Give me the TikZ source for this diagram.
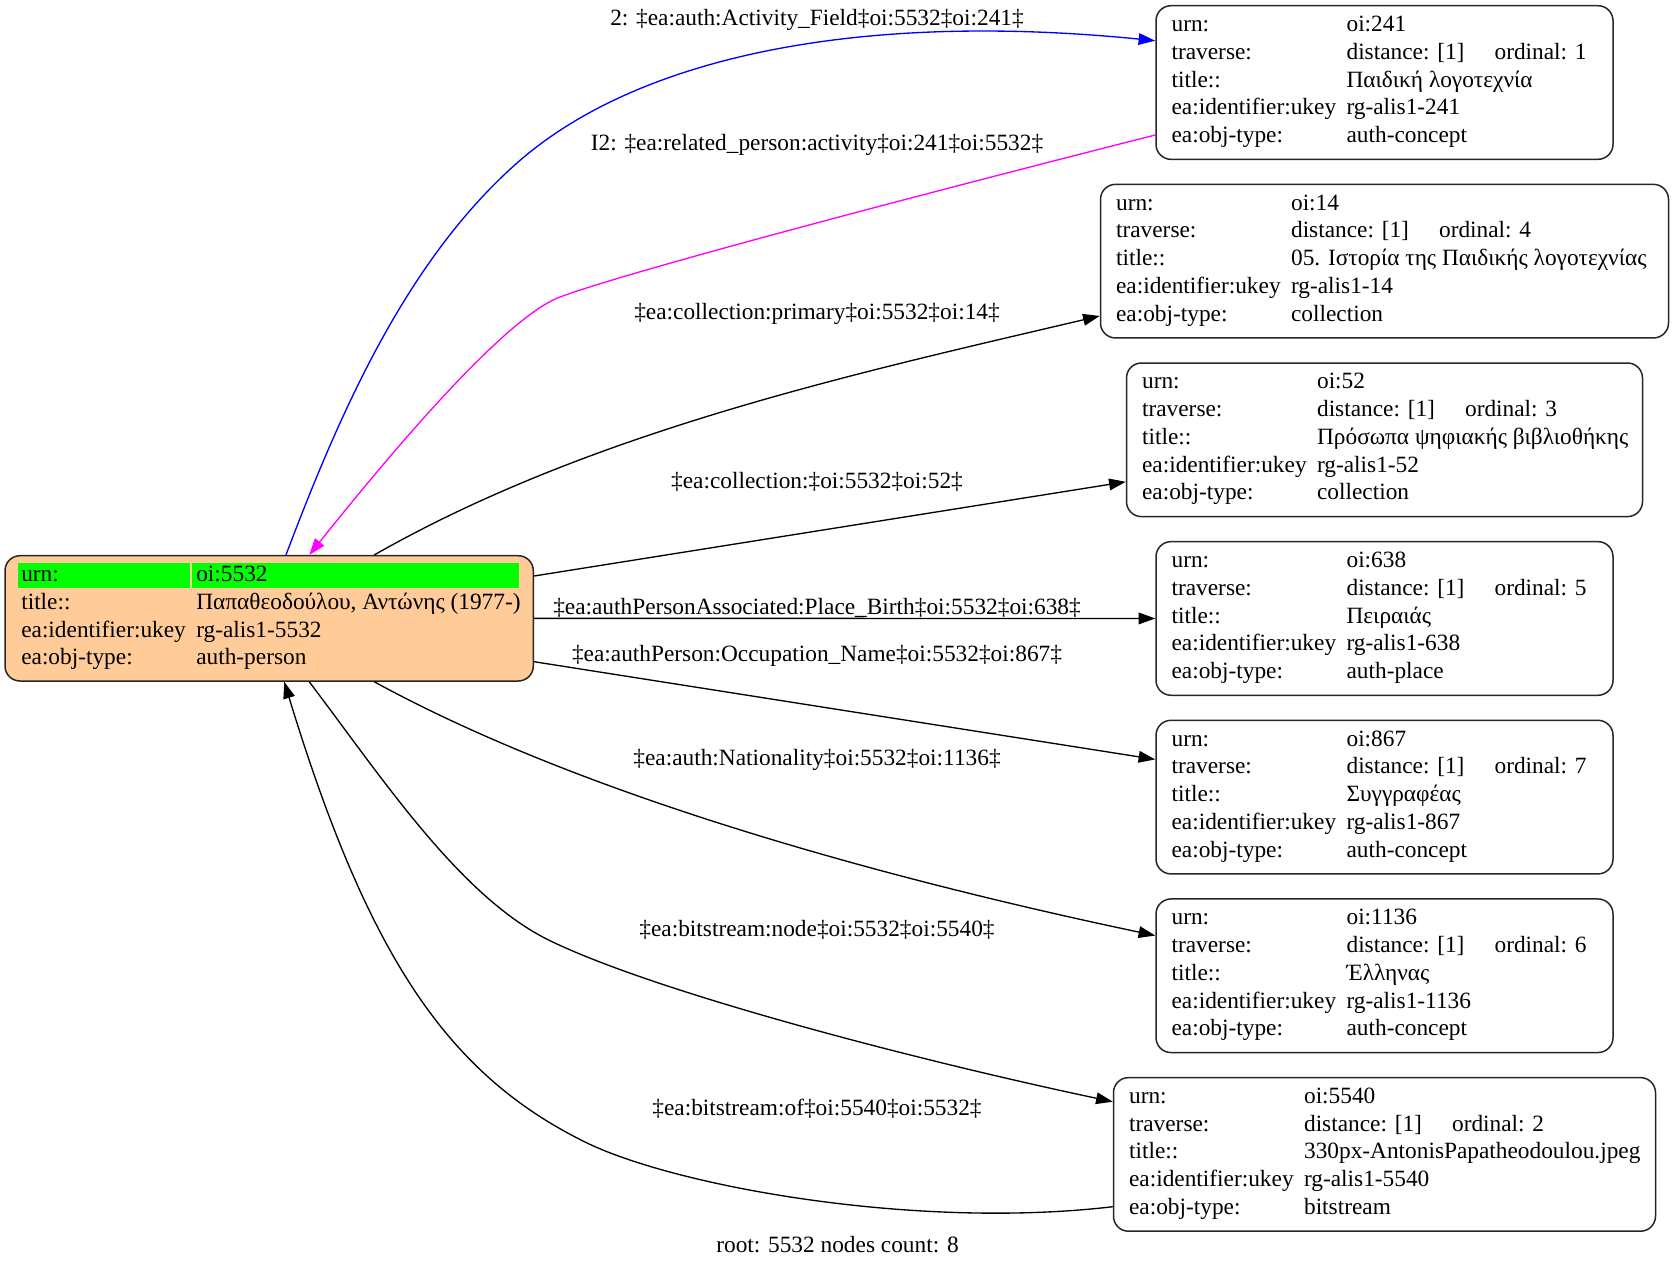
\documentclass[tikz,border=0pt]{standalone}
\usepackage{fontspec}
\setmainfont{Liberation Serif}
\usetikzlibrary{arrows.meta}
\definecolor{peach}{HTML}{FFCC99}
\definecolor{gvgreen}{HTML}{00FF00}
\definecolor{gvblue}{HTML}{0000FF}
\definecolor{gvmagenta}{HTML}{FF00FF}
\newcommand{\gvfont}{\fontsize{14pt}{16pt}\selectfont}
\newcommand{\fld}[4]{\node[txt] at ([shift={(#3,{26.6+27.75*#2})}]#1.north west) {#4};}
\newcommand{\gvrec}[9]{%
  \node[box, minimum width=#4*0.6pt] (#1) at (#2,#3) {};
  \fld{#1}{0}{16}{urn:}\fld{#1}{0}{191}{#5}
  \fld{#1}{1}{16}{traverse:}\fld{#1}{1}{191}{distance: [1]}\fld{#1}{1}{339}{ordinal: #6}
  \fld{#1}{2}{16}{title::}\fld{#1}{2}{191}{#7}
  \fld{#1}{3}{16}{ea:identifier:ukey}\fld{#1}{3}{191}{#8}
  \fld{#1}{4}{16}{ea:obj-type:}\fld{#1}{4}{191}{#9}}
\tikzset{
  box/.style={draw=black!85, line width=0.9pt, rounded corners=9pt, inner sep=0pt, minimum height=153.6*0.6pt},
  txt/.style={anchor=base west, inner sep=0pt, font=\gvfont},
  elab/.style={inner sep=0pt, font=\gvfont},
  gvedge/.style={line width=0.8pt, -{Triangle[length=10pt,width=7pt]}},
}
\begin{document}
\begin{tikzpicture}[x=0.6pt,y=-0.6pt]
\useasboundingbox (0,0) rectangle (1675,1268);
% root node
\node[box, fill=peach, minimum width=528.3*0.6pt, minimum height=125.3*0.6pt] (root) at (269.15,618.35) {};
\fill[gvgreen] ([shift={(13.7,8.3)}]root.north west) rectangle ([shift={(185.3,33.3)}]root.north west);
\fill[gvgreen] ([shift={(187.7,8.3)}]root.north west) rectangle ([shift={(514.3,33.3)}]root.north west);
\fld{root}{0}{16.7}{urn:}\fld{root}{0}{191.7}{oi:5532}
\fld{root}{1}{16.7}{title::}\fld{root}{1}{191.7}{Παπαθεοδούλου, Αντώνης (1977-)}
\fld{root}{2}{16.7}{ea:identifier:ukey}\fld{root}{2}{191.7}{rg-alis1-5532}
\fld{root}{3}{16.7}{ea:obj-type:}\fld{root}{3}{191.7}{auth-person}
% target nodes
\gvrec{n241}{1384.5}{82.5}{457}{oi:241}{1}{Παιδική λογοτεχνία}{rg-alis1-241}{auth-concept}
\gvrec{n14}{1384.5}{261.15}{568}{oi:14}{4}{05. Ιστορία της Παιδικής λογοτεχνίας}{rg-alis1-14}{collection}
\gvrec{n52}{1384.5}{439.8}{516}{oi:52}{3}{Πρόσωπα ψηφιακής βιβλιοθήκης}{rg-alis1-52}{collection}
\gvrec{n638}{1384.5}{618.45}{457}{oi:638}{5}{Πειραιάς}{rg-alis1-638}{auth-place}
\gvrec{n867}{1384.5}{797.1}{457}{oi:867}{7}{Συγγραφέας}{rg-alis1-867}{auth-concept}
\gvrec{n1136}{1384.5}{975.75}{457}{oi:1136}{6}{Έλληνας}{rg-alis1-1136}{auth-concept}
\gvrec{n5540}{1384.5}{1154.4}{542}{oi:5540}{2}{330px-AntonisPapatheodoulou.jpeg}{rg-alis1-5540}{bitstream}
% edges
\draw[gvedge, gvblue] ([shift={(281.7,0)}]root.north west) .. controls (339,415) and (405,262) .. (517,163)
  .. controls (637,57) and (857.5,11) .. ([shift={(0,-41.8)}]n241.west);
\draw[gvedge, gvmagenta] ([shift={(0,52.5)}]n241.west) .. controls (962,184) and (635,269) .. (560,297)
  .. controls (504,318) and (390,454) .. ([shift={(305,0)}]root.north west);
\draw[gvedge] ([shift={(370,0)}]root.north west) .. controls (591.5,431) and (857,373) .. ([shift={(0,54.8)}]n14.west);
\draw[gvedge] ([shift={(0,-42.35)}]root.east) -- ([shift={(0,42)}]n52.west);
\draw[gvedge] (root.east) -- (n638.west);
\draw[gvedge] ([shift={(0,43.35)}]root.east) -- ([shift={(0,-37.7)}]n867.west);
\draw[gvedge] ([shift={(370,0)}]root.south west) .. controls (594,802) and (911,884) .. ([shift={(0,-40.2)}]n1136.west);
\draw[gvedge] ([shift={(305,0)}]root.south west) .. controls (382,777.6) and (460,897) .. (550,940.7)
  .. controls (658,993) and (918,1060.5) .. ([shift={(0,-52.7)}]n5540.west);
\draw[gvedge] ([shift={(0,52.3)}]n5540.west) .. controls (915,1230) and (672,1186) .. (583,1141)
  .. controls (449,1074) and (369,959.5) .. ([shift={(280,0)}]root.south west);
% edge labels
\node[elab] (l1) at (817,20) {2: ‡ea:auth:Activity\_Field‡oi:5532‡oi:241‡};
\node[elab] (l2) at (817,145) {I2: ‡ea:related\_person:activity‡oi:241‡oi:5532‡};
\node[elab] (l3) at (817,313.5) {‡ea:collection:primary‡oi:5532‡oi:14‡};
\node[elab] (l4) at (817,481.7) {‡ea:collection:‡oi:5532‡oi:52‡};
\node[elab] (l5) at (817,608) {‡ea:authPersonAssociated:Place\_Birth‡oi:5532‡oi:638‡};
\node[elab] (l6) at (817,655.5) {‡ea:authPerson:Occupation\_Name‡oi:5532‡oi:867‡};
\node[elab] (l7) at (817,760) {‡ea:auth:Nationality‡oi:5532‡oi:1136‡};
\node[elab] (l8) at (817,929.5) {‡ea:bitstream:node‡oi:5532‡oi:5540‡};
\node[elab] (l9) at (817,1109) {‡ea:bitstream:of‡oi:5540‡oi:5532‡};
\node[elab] (glabel) at (837.5,1245) {root: 5532 nodes count: 8};
\end{tikzpicture}
\end{document}
